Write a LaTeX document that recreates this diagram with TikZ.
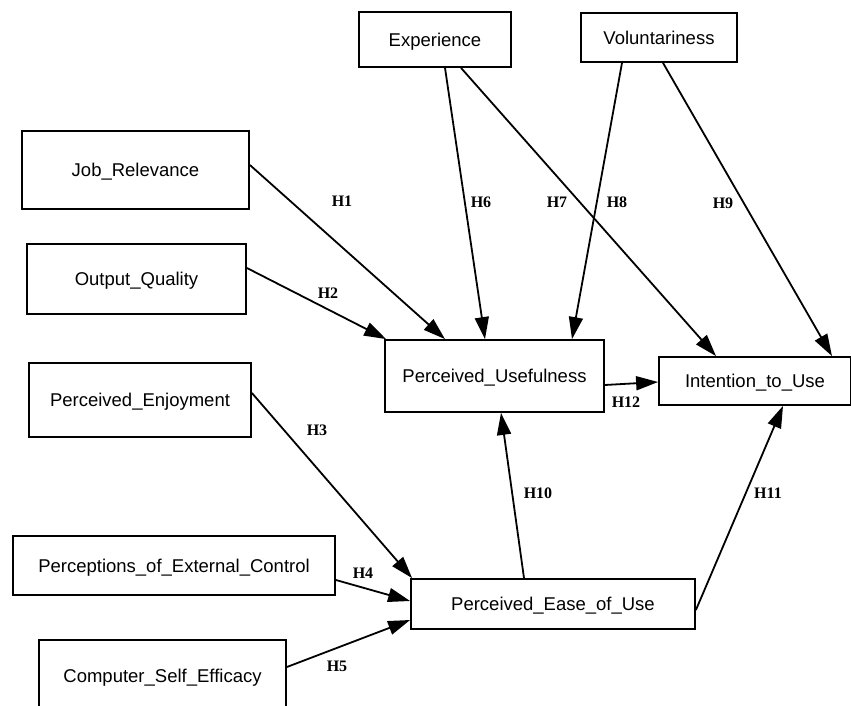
\documentclass[tikz,border=0pt]{standalone}
\usepackage{fontspec}
\setmainfont{Liberation Sans}
\newfontfamily\hypfont{Liberation Serif}
\usetikzlibrary{arrows.meta,positioning,calc}

\tikzset{
    construct/.style={draw, line width=1.8pt, inner sep=0pt, text height=13.2pt, text depth=0pt, font=\fontsize{18.5}{22}\selectfont},
    hyp/.style={font=\hypfont\bfseries\fontsize{16}{18}\selectfont},
    arr/.style={-{Triangle[length=22pt,width=14pt]}, line width=1.8pt}
}

\begin{document}
\begin{tikzpicture}[x=1pt,y=-1pt]
\clip (0,0) rectangle (851,706);

% Moderators
\node[construct, minimum width=152pt, minimum height=55pt] (exp) at (435,39.5) {Experience};
\node[construct, minimum width=156pt, minimum height=49pt] (vol) at (659,37.5) {Voluntariness};

% Determinants of usefulness
\node[construct, minimum width=227pt, minimum height=78pt] (jobrel) at (135.5,170) {Job\_Relevance};
\node[construct, minimum width=219pt, minimum height=70pt] (outq) at (136.5,279) {Output\_Quality};

% Determinants of ease of use
\node[construct, minimum width=222pt, minimum height=74pt] (enjoy) at (140,400) {Perceived\_Enjoyment};
\node[construct, minimum width=322pt, minimum height=59pt] (extctl) at (174,565.5) {Perceptions\_of\_External\_Control};
\node[construct, minimum width=247pt, minimum height=72pt] (selfeff) at (162.5,676) {Computer\_Self\_Efficacy};

% Core model
\node[construct, minimum width=219pt, minimum height=72pt] (useful) at (494.5,376) {Perceived\_Usefulness};
\node[construct, minimum width=192pt, minimum height=48pt] (intent) at (755,381) {Intention\_to\_Use};
\node[construct, minimum width=284pt, minimum height=50pt] (ease) at (553,604) {Perceived\_Ease\_of\_Use};

% Paths
\draw[arr] ([yshift=5pt]jobrel.east) -- ([xshift=-49.5pt]useful.north);
\draw[arr] ([yshift=11pt]outq.east) -- ([xshift=2pt]useful.north west);
\draw[arr] ([yshift=7pt]enjoy.east) -- ([xshift=2pt]ease.north west);
\draw[arr] ([yshift=-14.5pt]extctl.east) -- ([yshift=3pt]ease.west);
\draw[arr] ([yshift=9pt]selfeff.east) -- ([yshift=-16pt]ease.west);
\draw[arr] ([xshift=10pt]exp.south) -- ([xshift=-9.5pt]useful.north);
\draw[arr] ([xshift=26pt]exp.south) -- ([xshift=-39pt]intent.north);
\draw[arr] ([xshift=-37pt]vol.south) -- ([xshift=77.5pt]useful.north);
\draw[arr] ([xshift=4pt]vol.south) -- ([xshift=77pt]intent.north);
\draw[arr] ([xshift=-29pt]ease.north) -- ([xshift=6.5pt]useful.south);
\draw[arr] ([yshift=-6pt]ease.east) -- ([xshift=28pt]intent.south);
\draw[arr] ([yshift=-9pt]useful.east) -- ([yshift=-1pt]intent.west);

% Hypothesis labels
\node[hyp] (h1) at (342,201) {H1};
\node[hyp] (h2) at (328,293) {H2};
\node[hyp] (h3) at (317,430) {H3};
\node[hyp] (h4) at (363,573) {H4};
\node[hyp] (h5) at (337,666) {H5};
\node[hyp] (h6) at (481,202) {H6};
\node[hyp] (h7) at (557,202) {H7};
\node[hyp] (h8) at (617,202) {H8};
\node[hyp] (h9) at (723,203) {H9};
\node[hyp] (h10) at (538,493) {H10};
\node[hyp] (h11) at (768,493) {H11};
\node[hyp] (h12) at (626,402) {H12};
\end{tikzpicture}
\end{document}
